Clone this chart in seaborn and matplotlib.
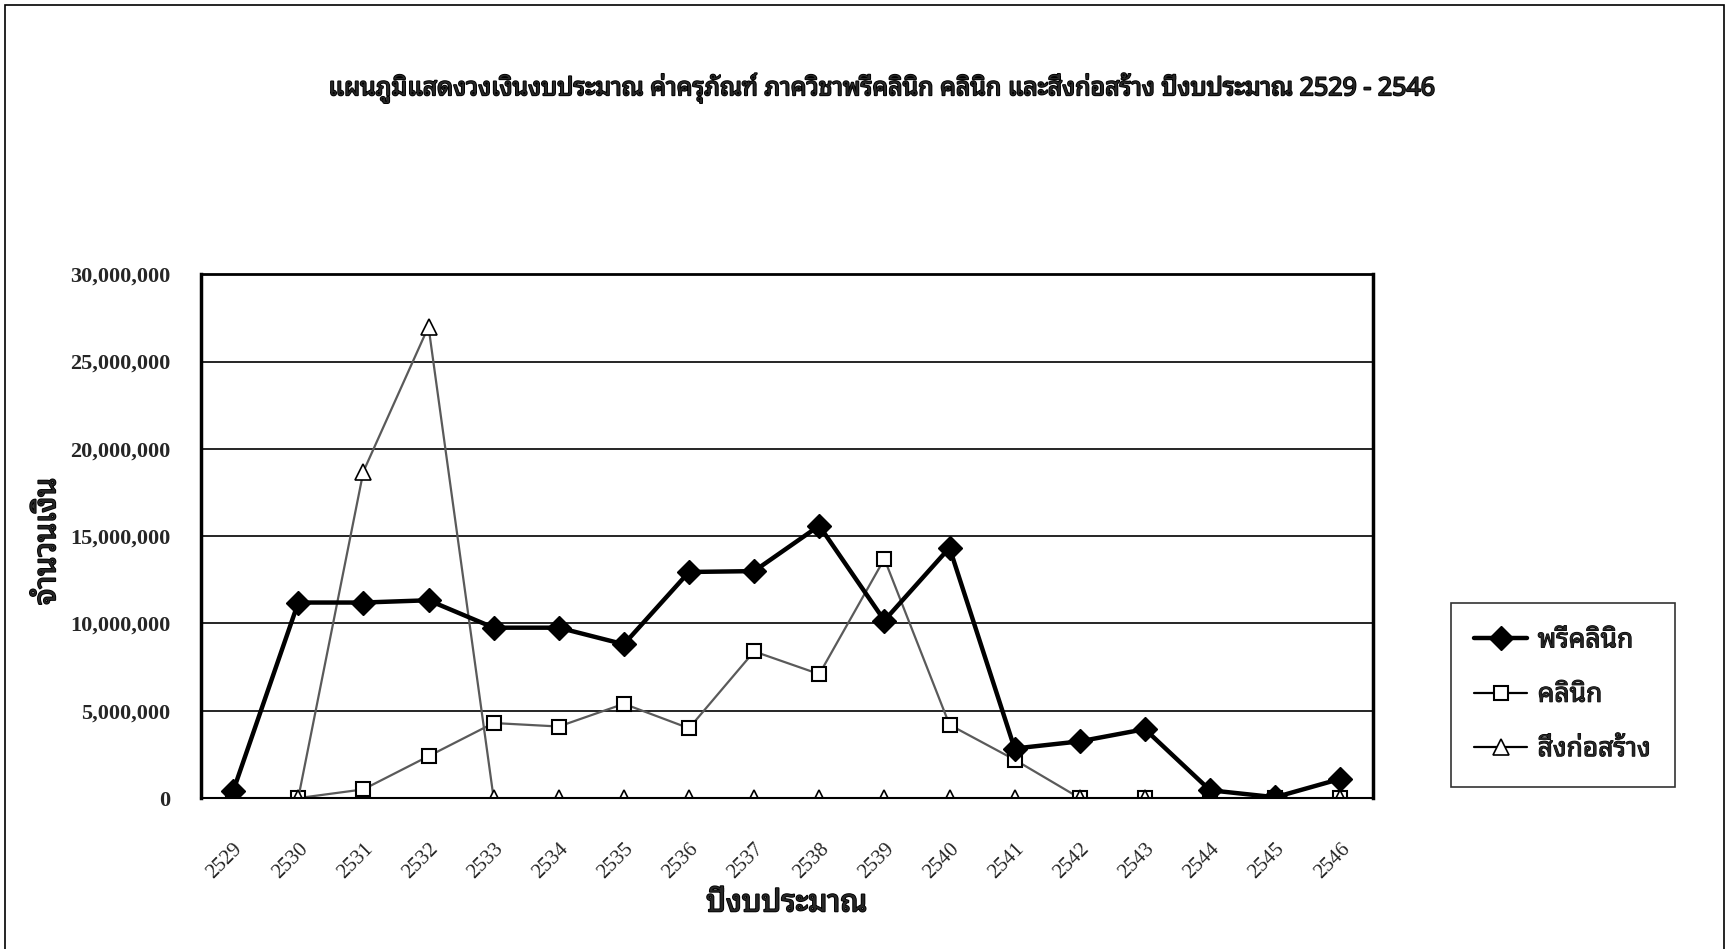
import matplotlib
matplotlib.use("Agg")
import matplotlib.pyplot as plt
from matplotlib import font_manager
from matplotlib.ft2font import FT2Font
from matplotlib.ticker import FuncFormatter, FixedLocator
from matplotlib.patches import Rectangle
import matplotlib.patheffects as pe
import seaborn as sns
import pandas as pd

# ---------------- data ----------------
years = ["2529", "2530", "2531", "2532", "2533", "2534", "2535", "2536", "2537",
         "2538", "2539", "2540", "2541", "2542", "2543", "2544", "2545", "2546"]
preclinic = [400000, 11200000, 11200000, 11330000, 9760000, 9760000, 8810000, 12950000, 13000000,
             15600000, 10170000, 14340000, 2840000, 3250000, 3950000, 450000, 50000, 1100000]
clinic = [0, 0, 500000, 2400000, 4300000, 4100000, 5400000, 4000000, 8400000,
          7100000, 13700000, 4200000, 2200000, 0, 0, 0, 0, 0]
construction = [0, 0, 18700000, 27000000, 0, 0, 0, 0, 0,
                0, 0, 0, 0, 0, 0, 0, 0, 0]
series_names = ["พรีคลินิก", "คลินิก", "สิ่งก่อสร้าง"]
title_text = "แผนภูมิแสดงวงเงินงบประมาณ ค่าครุภัณฑ์ ภาควิชาพรีคลินิก คลินิก และสิ่งก่อสร้าง ปีงบประมาณ 2529 - 2546"
xlabel_text = "ปีงบประมาณ"
ylabel_text = "จำนวนเงิน"
y_ticks = [0, 5000000, 10000000, 15000000, 20000000, 25000000, 30000000]

# ---------------- fonts ----------------
def find_thai_font():
    cands = []
    for f in font_manager.fontManager.ttflist:
        try:
            cm = FT2Font(f.fname).get_charmap()
        except Exception:
            continue
        if 0x0E01 in cm and 0x0E34 in cm:
            cands.append(f)
    if not cands:
        return None
    pref = ["Noto Sans Thai", "Noto Serif Thai", "Garuda", "Loma", "Tlwg"]
    for p in pref:
        for f in cands:
            if f.name.startswith(p):
                return f.name
    return cands[0].name

thai = find_thai_font()

sns.set_theme(style="white")
fam = [thai, "DejaVu Sans"] if thai else ["DejaVu Sans"]
plt.rcParams["font.family"] = fam
serif = ["Liberation Serif", "DejaVu Serif"]
bold_fx = [pe.withStroke(linewidth=1.3, foreground="black")]

df = pd.DataFrame({"x": list(range(len(years))) * 3,
                   "value": preclinic + clinic + construction,
                   "series": [series_names[0]] * len(years) + [series_names[1]] * len(years)
                             + [series_names[2]] * len(years)})

fig = plt.figure(figsize=(17.29, 9.49), dpi=100)
ax = fig.add_axes([0.116, 0.159, 0.678, 0.552])

styles = {
    series_names[0]: dict(color="black", lw=3.2, marker="D", ms=12, mfc="black", mec="black", mew=1),
    series_names[1]: dict(color="#5a5a5a", lw=1.6, marker="s", ms=10, mfc="white", mec="black", mew=1.5),
    series_names[2]: dict(color="#5a5a5a", lw=1.6, marker="^", ms=11, mfc="white", mec="black", mew=1.2),
}
for name in series_names:
    st = styles[name]
    sub = df[df["series"] == name]
    sns.lineplot(data=sub, x="x", y="value", ax=ax, color=st["color"], linewidth=st["lw"],
                 marker=st["marker"], markersize=st["ms"], markerfacecolor=st["mfc"],
                 markeredgecolor=st["mec"], markeredgewidth=st["mew"], label=name,
                 estimator=None, zorder=3 if name == series_names[0] else 2)

ax.set_xlim(-0.5, len(years) - 0.5)
ax.set_ylim(0, 30000000)
ax.yaxis.set_major_locator(FixedLocator(y_ticks))
ax.yaxis.set_major_formatter(FuncFormatter(lambda v, p: f"{int(v):,}"))
ax.set_xticks(range(len(years)))
ax.set_xticklabels(years, rotation=45, ha="right", rotation_mode="anchor",
                   family=serif, fontsize=15)
ax.set_xticks([i - 0.5 for i in range(len(years) + 1)], minor=True)
ax.tick_params(axis="x", which="major", length=0, pad=30)
ax.tick_params(axis="x", which="minor", length=8, width=1.2, direction="out", color="black")
ax.tick_params(axis="y", which="major", length=10, width=1.2, direction="out", color="black",
               labelsize=16, pad=12)
for lab in ax.get_yticklabels():
    lab.set_family(serif)
    lab.set_fontweight("bold")

ax.grid(axis="y", color="black", linewidth=1.2)
ax.grid(axis="x", visible=False)
for side in ["left", "right", "top", "bottom"]:
    ax.spines[side].set_visible(True)
    ax.spines[side].set_color("black")
ax.spines["left"].set_linewidth(2.5)
ax.spines["right"].set_linewidth(2.5)
ax.spines["top"].set_linewidth(2)
ax.spines["bottom"].set_linewidth(1.5)

ax.set_xlabel(xlabel_text, fontsize=22, fontweight="bold", labelpad=4, path_effects=bold_fx)
ax.set_ylabel(ylabel_text, fontsize=22, fontweight="bold", path_effects=bold_fx)
ax.yaxis.set_label_coords(-0.118, 0.49)

fig.text(0.51, 0.907, title_text, ha="center", va="center", fontsize=18, fontweight="bold",
         path_effects=bold_fx)

leg = ax.legend(loc="upper left", bbox_to_anchor=(0.839, 0.365), bbox_transform=fig.transFigure,
                borderaxespad=0, frameon=True, fancybox=False, edgecolor="black", fontsize=19,
                handlelength=2.0, labelspacing=1.0, borderpad=0.9, handletextpad=0.4)
leg.get_frame().set_linewidth(1.2)
for h in leg.legend_handles:
    h.set_color("black")
for t in leg.get_texts():
    t.set_path_effects([pe.withStroke(linewidth=0.8, foreground="black")])

fig.patches.append(Rectangle((0.003, -0.01), 0.994, 1.005, transform=fig.transFigure,
                             fill=False, edgecolor="black", linewidth=1.2))

fig.savefig("out.png", dpi=100, facecolor="white")
